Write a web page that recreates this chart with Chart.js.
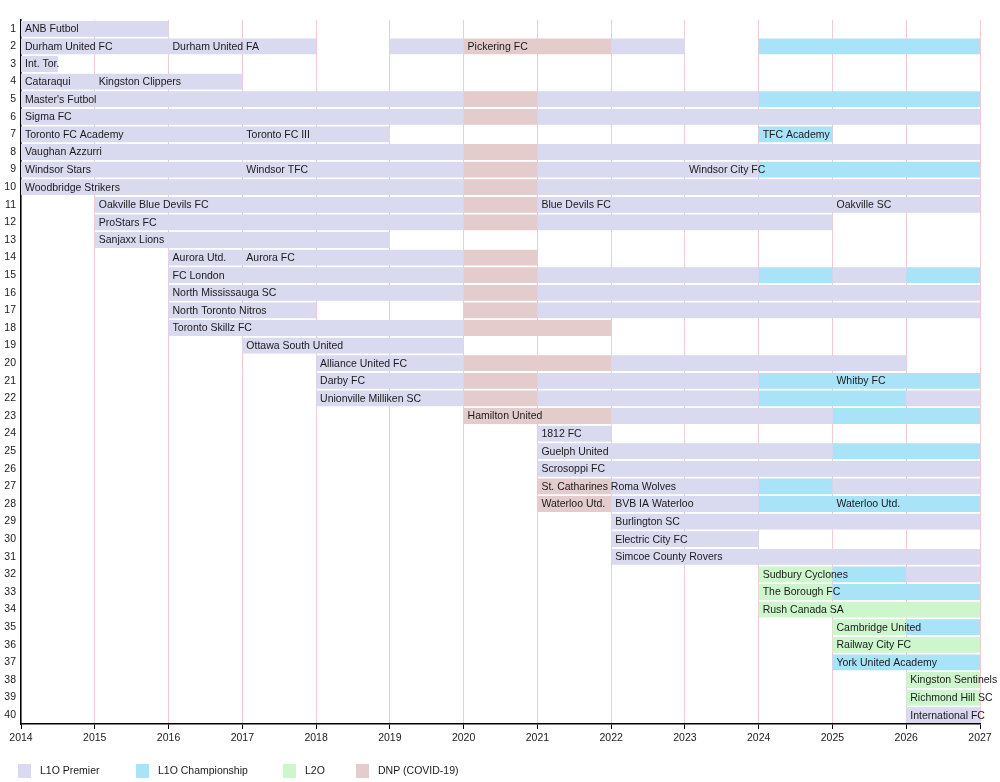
<!DOCTYPE html>
<html>
<head>
<meta charset="utf-8">
<title>League1 Ontario club timeline</title>
<script src="https://cdn.jsdelivr.net/npm/chart.js@4.4.1/dist/chart.umd.min.js"></script>
<style>
  html, body { margin: 0; padding: 0; background: #fff; }
  canvas { display: block; }
</style>
</head>
<body>
<canvas id="timeline" width="1000" height="782"></canvas>
<script>
// y axis rows (club slots)
const rowLabels = ['1','2','3','4','5','6','7','8','9','10',
  '11','12','13','14','15','16','17','18','19','20',
  '21','22','23','24','25','26','27','28','29','30',
  '31','32','33','34','35','36','37','38','39','40'];

const yearMin = 2014;
const yearMax = 2027;

// [row, from, to] spans per league level
const premier = [
  [1, 2014, 2016],
  [2, 2014, 2018], [2, 2019, 2020], [2, 2022, 2023],
  [3, 2014, 2014.5],
  [4, 2014, 2017],
  [5, 2014, 2020], [5, 2021, 2024],
  [6, 2014, 2020], [6, 2021, 2027],
  [7, 2014, 2019],
  [8, 2014, 2020], [8, 2021, 2027],
  [9, 2014, 2020], [9, 2021, 2024],
  [10, 2014, 2020], [10, 2021, 2027],
  [11, 2015, 2020], [11, 2021, 2027],
  [12, 2015, 2020], [12, 2021, 2025],
  [13, 2015, 2019],
  [14, 2016, 2020],
  [15, 2016, 2020], [15, 2021, 2024], [15, 2025, 2026],
  [16, 2016, 2020], [16, 2021, 2027],
  [17, 2016, 2018], [17, 2021, 2027],
  [18, 2016, 2020],
  [19, 2017, 2020],
  [20, 2018, 2020], [20, 2022, 2026],
  [21, 2018, 2020], [21, 2021, 2024],
  [22, 2018, 2020], [22, 2021, 2024], [22, 2026, 2027],
  [23, 2022, 2025],
  [24, 2021, 2022],
  [25, 2021, 2025],
  [26, 2021, 2027],
  [27, 2022, 2024], [27, 2025, 2027],
  [28, 2022, 2024],
  [29, 2022, 2027],
  [30, 2022, 2024],
  [31, 2022, 2027],
  [32, 2026, 2027],
  [40, 2026, 2027]
];

const championship = [
  [2, 2024, 2027],
  [5, 2024, 2027],
  [7, 2024, 2025],
  [9, 2024, 2027],
  [15, 2024, 2025], [15, 2026, 2027],
  [21, 2024, 2027],
  [22, 2024, 2026],
  [23, 2025, 2027],
  [25, 2025, 2027],
  [27, 2024, 2025],
  [28, 2024, 2027],
  [32, 2025, 2026],
  [33, 2025, 2027],
  [35, 2026, 2027],
  [37, 2025, 2027]
];

const l2o = [
  [32, 2024, 2025],
  [33, 2024, 2025],
  [34, 2024, 2027],
  [35, 2025, 2026],
  [36, 2025, 2027],
  [38, 2026, 2027],
  [39, 2026, 2027]
];

const dnp = [
  [2, 2020, 2022],
  [5, 2020, 2021], [6, 2020, 2021], [8, 2020, 2021], [9, 2020, 2021], [10, 2020, 2021],
  [11, 2020, 2021], [12, 2020, 2021], [14, 2020, 2021], [15, 2020, 2021],
  [16, 2020, 2021], [17, 2020, 2021], [18, 2020, 2022], [20, 2020, 2022],
  [21, 2020, 2021], [22, 2020, 2021], [23, 2020, 2022],
  [27, 2021, 2022], [28, 2021, 2022]
];

// [row, year the name starts, club name]
const teamNames = [
  [1, 2014, 'ANB Futbol'],
  [2, 2014, 'Durham United FC'], [2, 2016, 'Durham United FA'], [2, 2020, 'Pickering FC'],
  [3, 2014, 'Int. Tor.'],
  [4, 2014, 'Cataraqui'], [4, 2015, 'Kingston Clippers'],
  [5, 2014, "Master's Futbol"],
  [6, 2014, 'Sigma FC'],
  [7, 2014, 'Toronto FC Academy'], [7, 2017, 'Toronto FC III'], [7, 2024, 'TFC Academy'],
  [8, 2014, 'Vaughan Azzurri'],
  [9, 2014, 'Windsor Stars'], [9, 2017, 'Windsor TFC'], [9, 2023, 'Windsor City FC'],
  [10, 2014, 'Woodbridge Strikers'],
  [11, 2015, 'Oakville Blue Devils FC'], [11, 2021, 'Blue Devils FC'], [11, 2025, 'Oakville SC'],
  [12, 2015, 'ProStars FC'],
  [13, 2015, 'Sanjaxx Lions'],
  [14, 2016, 'Aurora Utd.'], [14, 2017, 'Aurora FC'],
  [15, 2016, 'FC London'],
  [16, 2016, 'North Mississauga SC'],
  [17, 2016, 'North Toronto Nitros'],
  [18, 2016, 'Toronto Skillz FC'],
  [19, 2017, 'Ottawa South United'],
  [20, 2018, 'Alliance United FC'],
  [21, 2018, 'Darby FC'], [21, 2025, 'Whitby FC'],
  [22, 2018, 'Unionville Milliken SC'],
  [23, 2020, 'Hamilton United'],
  [24, 2021, '1812 FC'],
  [25, 2021, 'Guelph United'],
  [26, 2021, 'Scrosoppi FC'],
  [27, 2021, 'St. Catharines Roma Wolves'],
  [28, 2021, 'Waterloo Utd.'], [28, 2022, 'BVB IA Waterloo'], [28, 2025, 'Waterloo Utd.'],
  [29, 2022, 'Burlington SC'],
  [30, 2022, 'Electric City FC'],
  [31, 2022, 'Simcoe County Rovers'],
  [32, 2024, 'Sudbury Cyclones'],
  [33, 2024, 'The Borough FC'],
  [34, 2024, 'Rush Canada SA'],
  [35, 2025, 'Cambridge United'],
  [36, 2025, 'Railway City FC'],
  [37, 2025, 'York United Academy'],
  [38, 2026, 'Kingston Sentinels'],
  [39, 2026, 'Richmond Hill SC'],
  [40, 2026, 'International FC']
];

const FONT = '"Liberation Sans", Arial, sans-serif';
const TEXT_COLOR = '#1a1a1a';

const toBars = (spans) => spans.map(([row, from, to]) => ({ y: String(row), x: [from, to] }));

const seriesStyle = [
  { label: 'L1O Premier', spans: premier, color: '#d9d9ef' },
  { label: 'L1O Championship', spans: championship, color: '#a9e3f8' },
  { label: 'L2O', spans: l2o, color: '#cdf6cd' },
  { label: 'DNP (COVID-19)', spans: dnp, color: '#e4cccc' }
];

// club names written at the start of each span
const teamLabelPlugin = {
  id: 'teamLabels',
  afterDatasetsDraw(chart) {
    const { ctx, scales: { x, y } } = chart;
    ctx.save();
    ctx.font = '10.5px ' + FONT;
    ctx.fillStyle = TEXT_COLOR;
    ctx.textBaseline = 'middle';
    teamNames.forEach(([row, year, name]) => {
      const idx = rowLabels.indexOf(String(row));
      ctx.fillText(name, x.getPixelForValue(year) + 4, y.getPixelForValue(idx) + 0.5);
    });
    ctx.restore();
  }
};

// fixed-position legend along the bottom edge
const bottomLegendPlugin = {
  id: 'bottomLegend',
  afterDraw(chart) {
    const { ctx } = chart;
    const slots = [18, 136, 283, 356];
    const yMid = 771;
    ctx.save();
    ctx.font = '10.5px ' + FONT;
    ctx.textBaseline = 'middle';
    chart.data.datasets.forEach((ds, i) => {
      ctx.fillStyle = ds.backgroundColor;
      ctx.fillRect(slots[i], yMid - 7, 13, 14);
      ctx.fillStyle = TEXT_COLOR;
      ctx.fillText(ds.label, slots[i] + 22, yMid + 0.5);
    });
    ctx.restore();
  }
};

const ctx = document.getElementById('timeline').getContext('2d');

new Chart(ctx, {
  type: 'bar',
  data: {
    labels: rowLabels,
    datasets: seriesStyle.map(s => ({
      label: s.label,
      data: toBars(s.spans),
      backgroundColor: s.color,
      borderWidth: 0,
      grouped: false,
      categoryPercentage: 1,
      barPercentage: 0.9
    }))
  },
  options: {
    indexAxis: 'y',
    responsive: false,
    animation: false,
    layout: { padding: { top: 20, right: 20, bottom: 0, left: 0 } },
    plugins: {
      legend: { display: false },
      tooltip: { enabled: false },
      title: { display: false }
    },
    scales: {
      y: {
        type: 'category',
        offset: true,
        afterFit: (axis) => { axis.width = 21; },
        grid: { color: 'transparent', drawTicks: false },
        border: { display: true, color: '#000', width: 1.5 },
        ticks: {
          color: TEXT_COLOR,
          font: { family: FONT, size: 10.5 },
          padding: 5,
          autoSkip: false
        }
      },
      x: {
        type: 'linear',
        min: yearMin,
        max: yearMax,
        afterFit: (axis) => { axis.height = 58; },
        grid: {
          color: 'rgba(232, 150, 165, 0.5)',
          lineWidth: 1,
          tickColor: '#000',
          tickLength: 5
        },
        border: { display: true, color: '#000', width: 1.5 },
        ticks: {
          stepSize: 1,
          color: TEXT_COLOR,
          font: { family: FONT, size: 10.5 },
          padding: 3,
          maxRotation: 0,
          callback: (value) => String(value)
        }
      }
    }
  },
  plugins: [teamLabelPlugin, bottomLegendPlugin]
});
</script>
</body>
</html>
